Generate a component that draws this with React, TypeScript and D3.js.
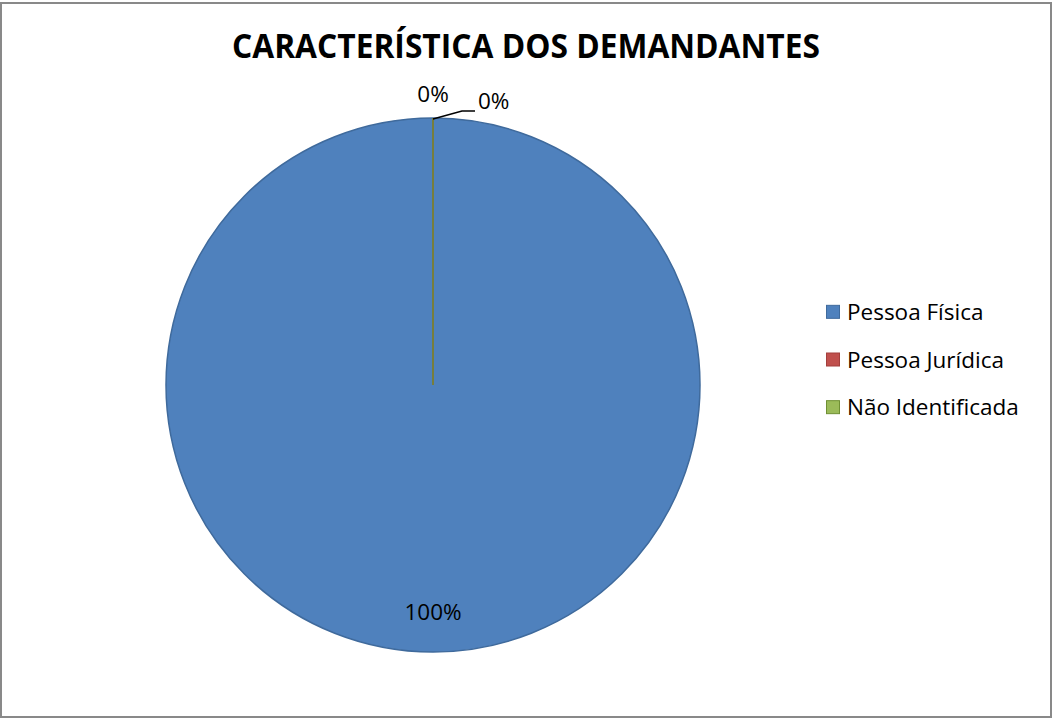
import * as d3 from 'd3';
import React from 'react';

const categories: string[] = ['Pessoa Física', 'Pessoa Jurídica', 'Não Identificada'];
const values: number[] = [100, 0, 0];
const colors: string[] = ['#4f81bd', '#c0504d', '#9bbb59'];
const strokes: string[] = ['#3f6a9c', '#a33f3c', '#6f8f33'];
const title = 'CARACTERÍSTICA DOS DEMANDANTES';

const App = (): React.ReactElement => {
    const width = 1052;
    const height = 718;
    const cx = 433;
    const cy = 385;
    const radius = 267;
    const font = "'Open Sans', 'Liberation Sans', sans-serif";
    const fs = 22.5;

    const total = d3.sum(values);
    const pie = d3.pie<number>().sort(null).value((d) => d);
    const arcs = pie(values);
    const arc = d3.arc<d3.PieArcDatum<number>>().innerRadius(0).outerRadius(radius);
    const pct = (v: number) => d3.format('.0%')(v / total);

    // Label spots
    const inside = d3.arc<d3.PieArcDatum<number>>().innerRadius(radius * 0.85).outerRadius(radius * 0.85);
    const outside = d3.arc<d3.PieArcDatum<number>>().innerRadius(radius + 15).outerRadius(radius + 15);

    const legendY = d3.scaleBand<string>().domain(categories).range([288, 431]);

    return (
        <svg width={width} height={height} style={{ position: 'absolute', left: 0, top: 0 }}>
            <rect x={0} y={0} width={width} height={height} fill="#ffffff" />
            <rect x={1} y={3} width={1050} height={714} fill="none" stroke="#898989" strokeWidth={2} />
            <text
                x={526}
                y={58}
                textAnchor="middle"
                fontFamily={font}
                fontWeight="bold"
                fontSize={34}
                textLength={588}
                lengthAdjust="spacingAndGlyphs"
                fill="#000"
            >
                {title}
            </text>
            <g transform={`translate(${cx},${cy})`}>
                {arcs.map((a, i) => (
                    <path key={categories[i]} d={arc(a) || ''} fill={colors[i]} stroke={strokes[i]} strokeWidth={1.5} />
                ))}
                {arcs.map((a, i) => {
                    if (a.value > 0) {
                        const [x, y] = inside.centroid(a);
                        return (
                            <text key={'l' + i} x={x} y={y + 8} textAnchor="middle" fontFamily={font} fontSize={fs} fill="#000">
                                {pct(a.value)}
                            </text>
                        );
                    }
                    const [x, y] = outside.centroid(a);
                    if (i === 1) {
                        return (
                            <text key={'l' + i} x={x} y={y - 1} textAnchor="middle" fontFamily={font} fontSize={fs} fill="#000">
                                {pct(a.value)}
                            </text>
                        );
                    }
                    const tipX = Math.sin(a.startAngle) * radius;
                    const tipY = -Math.cos(a.startAngle) * radius;
                    return (
                        <g key={'l' + i}>
                            <polyline
                                points={`${tipX},${tipY + 1} ${tipX + 29},${tipY - 7} ${tipX + 42},${tipY - 7}`}
                                fill="none"
                                stroke="#000"
                                strokeWidth={1.5}
                            />
                            <text x={x + 45} y={y + 6} textAnchor="start" fontFamily={font} fontSize={fs} fill="#000">
                                {pct(a.value)}
                            </text>
                        </g>
                    );
                })}
            </g>
            <g>
                {categories.map((c, i) => {
                    const y = (legendY(c) as number) + legendY.bandwidth() / 2;
                    return (
                        <g key={c}>
                            <rect x={826.5} y={y - 6.5} width={13} height={13} fill={colors[i]} stroke={strokes[i]} strokeWidth={1} />
                            <text x={847} y={y + 8} fontFamily={font} fontSize={fs} fill="#000">
                                {c}
                            </text>
                        </g>
                    );
                })}
            </g>
        </svg>
    );
};

export default App;
